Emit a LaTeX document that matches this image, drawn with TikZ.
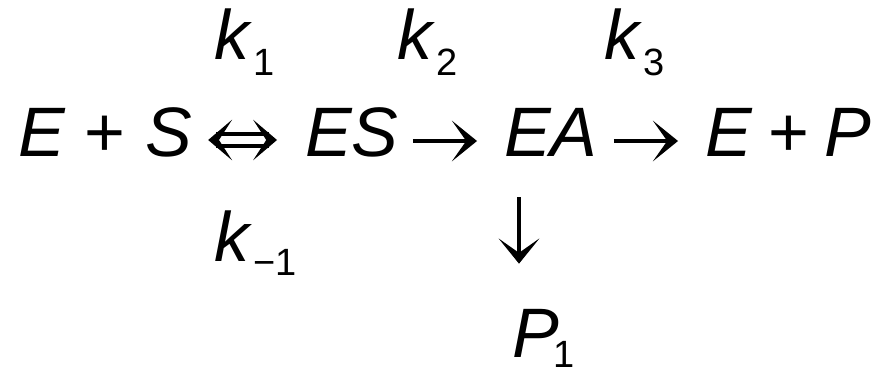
\documentclass[tikz,border=0pt]{standalone}
\usepackage{fontspec}
\setmainfont{Liberation Sans}
\usetikzlibrary{calc}
\newcommand{\bigf}{\fontsize{70}{84}\selectfont}
\newcommand{\subf}{\fontsize{38}{44}\selectfont}
\newcommand{\sbs}[2]{\raisebox{-#1}{\subf #2}}
\begin{document}
\begin{tikzpicture}[x=1pt,y=-1pt,
  txt/.style={inner sep=0pt, anchor=base west, font=\bigf},
  ln/.style={line width=3.2pt},
  head/.style={line width=1.3pt, line join=miter, miter limit=10, fill=black, draw=black}]
\useasboundingbox (0,0) rectangle (884,371);
% species
\node[txt] (ESub) at (18,157) {\textit{E} + \textit{S}};
\node[txt] (ES) at (305,157) {\textit{ES}};
\node[txt] (EA) at (504,157) {\textit{EA}};
\node[txt] (EP) at (705,157) {\textit{E}\hspace{16pt}+\hspace{15pt}\textit{P}};
\node[txt] (P1) at (512,358) {\textit{P}\hspace{-5pt}\sbs{10pt}{1}};
% rate constants
\node[txt] (k1) at (214,60) {\textit{k}\hspace{1pt}\sbs{16pt}{1}};
\node[txt] (k2) at (397,60) {\textit{k}\hspace{1pt}\sbs{16pt}{2}};
\node[txt] (k3) at (604,60) {\textit{k}\hspace{1pt}\sbs{16pt}{3}};
\node[txt] (km1) at (214,262) {\textit{k}\hspace{1pt}\sbs{14pt}{\char"2212 1}};
% helper coordinates
\coordinate (axis) at (0,141);
\coordinate (dx) at (519,0);
% double arrow E+S <=> ES
\path (ESub.east |- axis) ++(17,-1) coordinate (dL);
\path (ES.west |- axis) ++(-29,-1) coordinate (dR);
\draw[ln] ($(dL)+(7,-6)$) -- ($(dR)+(-7,-6)$);
\draw[ln] ($(dL)+(7,6)$) -- ($(dR)+(-7,6)$);
\path[head] (dL) -- ++(20,-17) -- ++(-11,17) -- ++(11,17) -- cycle;
\path[head] (dR) -- ++(-20,-17) -- ++(11,17) -- ++(-11,17) -- cycle;
% ES -> EA
\path (ES.east |- axis) ++(14,0) coordinate (a1s);
\path (EA.west |- axis) ++(-28,0) coordinate (a1t);
\draw[ln] (a1s) -- ($(a1t)+(-6,0)$);
\path[head] (a1t) -- ++(-21,-17) -- ++(12,17) -- ++(-12,17) -- cycle;
% EA -> E+P
\path (EA.east |- axis) ++(16,0) coordinate (a2s);
\path (EP.west |- axis) ++(-28,0) coordinate (a2t);
\draw[ln] (a2s) -- ($(a2t)+(-6,0)$);
\path[head] (a2t) -- ++(-21,-17) -- ++(12,17) -- ++(-12,17) -- cycle;
% EA -> P1
\path (EA.south -| dx) ++(0,40) coordinate (a3s);
\path (P1.north -| dx) ++(0,-47) coordinate (a3t);
\draw[ln] (a3s) -- ($(a3t)+(0,-6)$);
\path[head] (a3t) -- ++(-17,-21) -- ++(17,12) -- ++(17,-12) -- cycle;
\end{tikzpicture}
\end{document}
